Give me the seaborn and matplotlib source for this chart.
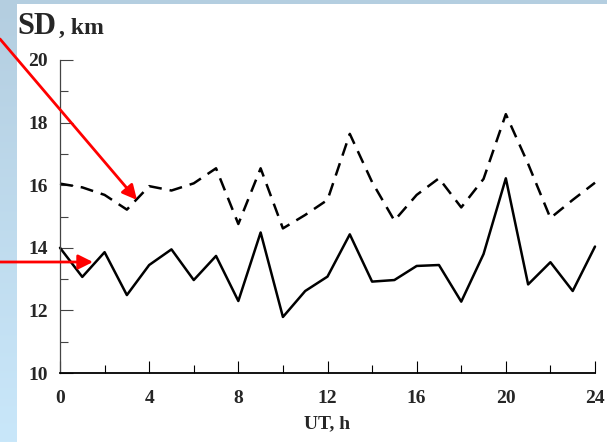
import numpy as np
import pandas as pd
import matplotlib
matplotlib.use("Agg")
import matplotlib.pyplot as plt
from matplotlib.ticker import MultipleLocator
from matplotlib.patches import Rectangle
import seaborn as sns

hours = list(range(25))
sd_solid = [14.0, 13.07, 13.86, 12.49, 13.45, 13.95, 12.97, 13.74, 12.30, 14.49,
            11.79, 12.62, 13.08, 14.43, 12.92, 12.97, 13.42, 13.45, 12.28, 13.80,
            16.22, 12.83, 13.54, 12.62, 14.04]
sd_dashed = [16.05, 15.93, 15.69, 15.22, 15.97, 15.83, 16.06, 16.54, 14.76, 16.54,
             14.62, 15.05, 15.53, 17.64, 16.10, 14.87, 15.69, 16.22, 15.29, 16.20,
             18.27, 16.68, 14.95, 15.53, 16.08]
x_ticks = [0, 4, 8, 12, 16, 20, 24]
y_ticks = [10, 12, 14, 16, 18, 20]

sns.set_theme(style="white")
plt.rcParams['font.family'] = ['Liberation Serif', 'DejaVu Serif']
plt.rcParams['font.weight'] = 'bold'

W, H = 607, 442
fig = plt.figure(figsize=(W / 100, H / 100), dpi=100)

# background: blue gradient strip left/top, white panel
bg = fig.add_axes([0, 0, 1, 1], zorder=-10)
grad = np.linspace(0, 1, 256).reshape(-1, 1)
cmap = matplotlib.colors.LinearSegmentedColormap.from_list("bg", ["#b4cee0", "#c9e7fa"])
bg.imshow(grad, aspect='auto', cmap=cmap, extent=[0, 1, 0, 1], origin='upper')
bg.add_patch(Rectangle((17 / W, 0), 1 - 17 / W, 1 - 4 / H, facecolor='white', edgecolor='none'))
bg.set_xlim(0, 1)
bg.set_ylim(0, 1)
bg.axis('off')

ax = fig.add_axes([60 / W, 1 - 373 / H, (595 - 60) / W, (373 - 60) / H])
ax.set_facecolor('none')

df = pd.DataFrame({"UT": hours + hours,
                   "SD": sd_solid + sd_dashed,
                   "kind": ["solid"] * len(hours) + ["dashed"] * len(hours)})
sns.lineplot(data=df, x="UT", y="SD", hue="kind", style="kind",
             palette={"solid": "black", "dashed": "black"},
             dashes={"solid": "", "dashed": (13 / 2.5, 8 / 2.5)},
             linewidth=1.8, legend=False, ax=ax, clip_on=False)

ax.set_xlim(0, 24)
ax.set_ylim(10, 20)
ax.set_xticks(x_ticks)
ax.set_yticks(y_ticks)
ax.xaxis.set_minor_locator(MultipleLocator(2))
ax.yaxis.set_minor_locator(MultipleLocator(1))
ax.tick_params(axis='x', which='major', direction='in', length=8.6, width=0.8,
               color='black', pad=12, labelsize=14)
ax.tick_params(axis='x', which='minor', direction='in', length=5.8, width=0.8, color='black')
ax.tick_params(axis='y', which='major', direction='in', length=9.4, width=0.8,
               color='#444444', pad=8.5, labelsize=14)
ax.tick_params(axis='y', which='minor', direction='in', length=5.8, width=0.8, color='#444444')
ax.tick_params(bottom=True, left=True, which='both')
for lab in ax.get_xticklabels() + ax.get_yticklabels():
    lab.set_fontweight('bold')

sns.despine(ax=ax)
ax.spines['bottom'].set_color('black')
ax.spines['bottom'].set_linewidth(1.3)
ax.spines['left'].set_color('#444444')
ax.spines['left'].set_linewidth(0.9)

ax.set_xlabel("UT, h", fontsize=14, fontweight='bold', labelpad=6)
ax.set_ylabel("")

fig.text(17 / W, 1 - 34 / H, "SD", fontsize=22, fontweight='bold', ha='left', va='baseline')
fig.text(59 / W, 1 - 34 / H, ", km", fontsize=17, fontweight='bold', ha='left', va='baseline')

# red arrows
fig.add_artist(matplotlib.patches.FancyArrowPatch(
    (0 / W, 1 - 39 / H), (137 / W, 1 - 200 / H), transform=fig.transFigure,
    arrowstyle='-|>', mutation_scale=22, color='red', lw=2, shrinkA=0, shrinkB=0))
fig.add_artist(matplotlib.patches.FancyArrowPatch(
    (0 / W, 1 - 262 / H), (93 / W, 1 - 262 / H), transform=fig.transFigure,
    arrowstyle='-|>', mutation_scale=22, color='red', lw=2, shrinkA=0, shrinkB=0))

fig.savefig("out.png", dpi=100)
